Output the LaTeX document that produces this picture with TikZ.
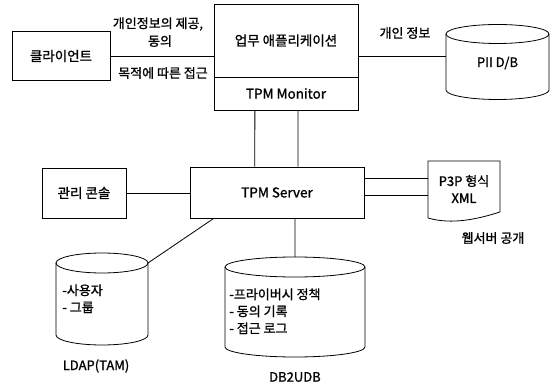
\documentclass[tikz,border=0pt]{standalone}
\usepackage{fontspec}
\setmainfont[FakeBold=1.2]{Noto Sans CJK KR}
\usetikzlibrary{calc}
\begin{document}
\begin{tikzpicture}[x=1pt,y=1pt,line width=0.8pt,
  box/.style={draw,rectangle,inner sep=0pt,font=\fontsize{13.5}{15}\selectfont},
  lbl/.style={inner sep=0pt,font=\fontsize{13}{15}\selectfont},
  cyltxt/.style={inner sep=0pt,align=left,anchor=north west,font=\fontsize{13}{17}\selectfont}]
\useasboundingbox (0,0) rectangle (553,385);
% boxes
\node[box,minimum width=98,minimum height=49] (cli) at (61,329) {클라이언트};
\node[box,minimum width=144,minimum height=73] (app) at (286,344.5) {업무 애플리케이션};
\node[box,minimum width=144,minimum height=33] (mon) at (286,291.5) {TPM Monitor};
\node[box,minimum width=174,minimum height=51] (srv) at (277,192.5) {TPM Server};
\node[box,minimum width=84,minimum height=50] (con) at (84,192) {관리 콘솔};
% edge labels
\node[lbl] (l1) at (158,361) {개인정보의 제공,};
\node[lbl] (l2) at (160,344) {동의};
\node[lbl] (l3) at (163,312) {목적에 따른 접근};
\node[lbl] (l4) at (405,352) {개인 정보};
% PII cylinder
\draw (497.5,351) ellipse [x radius=51.5,y radius=9.5];
\draw (446,351) -- (446,295) arc[start angle=180,end angle=360,x radius=51.5,y radius=9.5] -- (549,351);
\node[lbl,minimum width=103,minimum height=56] (pii) at (497.5,322) {PII D/B};
% LDAP cylinder
\draw (102,122) ellipse [x radius=46,y radius=10];
\draw (56,122) -- (56,50) arc[start angle=180,end angle=360,x radius=46,y radius=10] -- (148,122);
\coordinate (ldaptr) at (148,122);
\node[cyltxt] (ldap) at (62,101) {-사용자\\- 그룹};
\node[lbl] (ldapname) at (96,19) {LDAP(TAM)};
% DB2 cylinder
\draw (295,118) ellipse [x radius=70,y radius=10];
\draw (225,118) -- (225,38) arc[start angle=180,end angle=360,x radius=70,y radius=10] -- (365,118);
\coordinate (db2top) at (295,128);
\node[cyltxt] (db2) at (229,97) {-프라이버시 정책\\- 동의 기록\\- 접근 로그};
\node[lbl] (db2name) at (295,8) {DB2UDB};
% P3P document
\draw (428,167) -- (428,224) -- (500,224) -- (500,173)
  .. controls (478,166) and (452,160) .. (428,167);
\node[lbl,minimum width=72,minimum height=57,align=center,font=\fontsize{13}{17}\selectfont] (doc) at (464,196) {P3P 형식\\XML};
\node[lbl] (web) at (493,147) {웹서버 공개};
% connectors
\draw (cli.east) -- (cli.east -| app.west);
\draw (cli.east -| app.east) -- (cli.east -| pii.west);
\draw ($(mon.south west)!0.285!(mon.south east)$) -- ($(srv.north west)!0.373!(srv.north east)$);
\draw ($(mon.south west)!0.583!(mon.south east)$) -- ($(srv.north west)!0.62!(srv.north east)$);
\draw (con.east) -- (con.east -| srv.west);
\draw ($(srv.south west)!0.138!(srv.south east)$) -- (ldaptr);
\draw ($(srv.south west)!0.603!(srv.south east)$) -- (db2top);
\draw (srv.east |- 0,207) -- (doc.west |- 0,207);
\draw (srv.east |- 0,190) -- (doc.west |- 0,190);
\end{tikzpicture}
\end{document}
